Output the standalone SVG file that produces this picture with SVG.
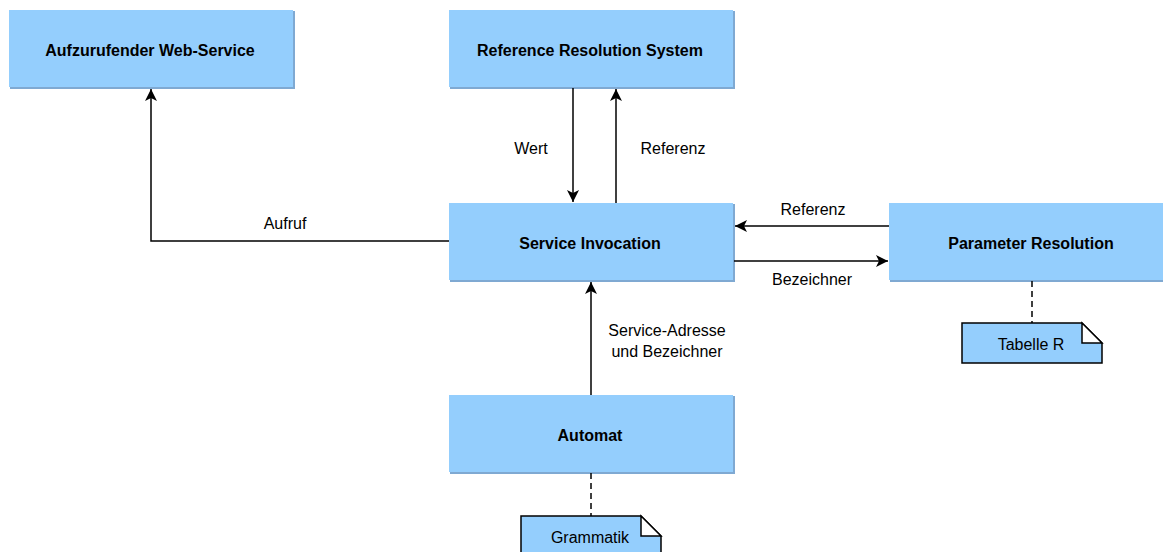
<svg xmlns="http://www.w3.org/2000/svg" width="1163" height="552" viewBox="0 0 1163 552">
<style>
.box{fill:#94cefd;}
.sh{fill:#7fa9d2;}
.t{font-family:"Liberation Sans",Arial,sans-serif;font-size:16px;font-weight:bold;fill:#000;text-anchor:middle;}
.l{font-family:"Liberation Sans",Arial,sans-serif;font-size:16px;fill:#000;text-anchor:middle;}
.c{fill:none;stroke:#000;stroke-width:1.5;}
.d{fill:none;stroke:#000;stroke-width:1.5;stroke-dasharray:6,4;}
.note{fill:#94cefd;stroke:#000;stroke-width:1.5;}
.fold{fill:#fff;stroke:#000;stroke-width:1.5;}
</style>
<defs>
<marker id="a" viewBox="0 0 12 12" refX="12" refY="6" markerWidth="12" markerHeight="12" markerUnits="userSpaceOnUse" orient="auto">
<path d="M0,0 L12,6 L0,12 L3,6 Z" fill="#000"/>
</marker>
</defs>
<g id="n-webservice">
<rect class="sh" x="10" y="11" width="285" height="78"/>
<rect class="box" x="9" y="10" width="284" height="77"/>
<text class="t" x="150" y="56">Aufzurufender Web-Service</text>
</g>
<g id="n-rrs">
<rect class="sh" x="450" y="11" width="285" height="78"/>
<rect class="box" x="449" y="10" width="284" height="77"/>
<text class="t" x="590" y="56">Reference Resolution System</text>
</g>
<g id="n-si">
<rect class="sh" x="450" y="204" width="285" height="78"/>
<rect class="box" x="449" y="203" width="284" height="77"/>
<text class="t" x="590" y="249">Service Invocation</text>
</g>
<g id="n-pr">
<rect class="sh" x="890" y="204" width="285" height="78"/>
<rect class="box" x="889" y="203" width="284" height="77"/>
<text class="t" x="1031" y="249">Parameter Resolution</text>
</g>
<g id="n-automat">
<rect class="sh" x="450" y="396" width="285" height="78"/>
<rect class="box" x="449" y="395" width="284" height="77"/>
<text class="t" x="590" y="441">Automat</text>
</g>
<g id="n-tabelle">
<path class="note" d="M962,323 H1082 L1102,343 V363 H962 Z"/>
<path class="fold" d="M1082,323 V343 H1102 Z"/>
<text class="l" x="1031" y="350">Tabelle R</text>
</g>
<g id="n-grammatik">
<path class="note" d="M521,516 H641 L661,536 V560 H521 Z"/>
<path class="fold" d="M641,516 V536 H661 Z"/>
<text class="l" x="590" y="543">Grammatik</text>
</g>
<g id="connectors">
<path class="c" d="M573,88 V202" marker-end="url(#a)"/>
<path class="c" d="M616,203 V89" marker-end="url(#a)"/>
<path class="c" d="M449,241 H151 V89" marker-end="url(#a)"/>
<path class="c" d="M889,226 H735" marker-end="url(#a)"/>
<path class="c" d="M734,261 H888" marker-end="url(#a)"/>
<path class="c" d="M591,395 V282" marker-end="url(#a)"/>
<path class="d" d="M1032,281 V323"/>
<path class="d" d="M591,473 V516"/>
<text class="l" x="531" y="154">Wert</text>
<text class="l" x="673" y="154">Referenz</text>
<text class="l" x="285" y="229">Aufruf</text>
<text class="l" x="813" y="215">Referenz</text>
<text class="l" x="812" y="285">Bezeichner</text>
<text class="l" x="667" y="336">Service-Adresse</text>
<text class="l" x="667" y="357">und Bezeichner</text>
</g>
</svg>
